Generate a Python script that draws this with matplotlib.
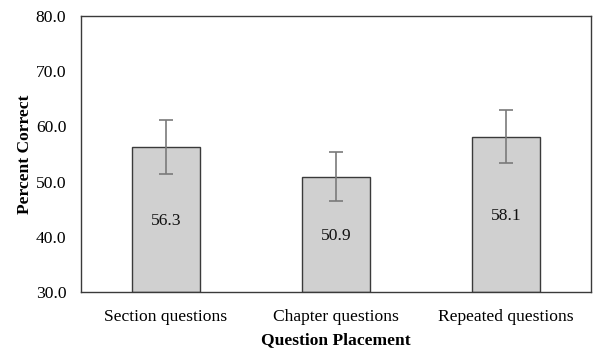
import matplotlib
matplotlib.use("Agg")
import matplotlib.pyplot as plt

categories = ["Section questions", "Chapter questions", "Repeated questions"]
values = [56.3, 50.9, 58.1]
errors = [4.85, 4.5, 4.8]
yticks = [30.0, 40.0, 50.0, 60.0, 70.0, 80.0]

plt.rcParams['font.family'] = ['Liberation Serif', 'DejaVu Serif']
fs = 12.6

fig = plt.figure(figsize=(5.93, 3.5), dpi=100)
ax = fig.add_axes([81/593, 1-292/350, 510/593, 276/350])

x = list(range(len(categories)))
bottom = yticks[0]
ax.bar(x, [v - bottom for v in values], bottom=bottom, width=0.4,
       color="#d0d0d0", edgecolor="#3a3a3a", linewidth=1.0, zorder=2)
ax.errorbar(x, values, yerr=errors, fmt="none", ecolor="#7a7a7a",
            elinewidth=1.2, capsize=5, capthick=1.2, zorder=3)
for xi, v in zip(x, values):
    ax.text(xi, (v + bottom) / 2 - 0.3, f"{v:.1f}", ha="center", va="center",
            fontsize=fs, color="#111111", zorder=4)

ax.set_xlim(-0.5, len(categories) - 0.5)
ax.set_ylim(yticks[0], yticks[-1])
ax.set_yticks(yticks)
ax.set_yticklabels([f"{t:.1f}" for t in yticks], fontsize=fs)
ax.set_xticks(x)
ax.set_xticklabels(categories, fontsize=fs)
ax.tick_params(axis="y", length=0, pad=10.5)
ax.tick_params(axis="x", length=0, pad=12)
for s in ax.spines.values():
    s.set_color("#3a3a3a")
    s.set_linewidth(1.0)

ax.set_ylabel("Percent Correct", fontsize=fs, fontweight="bold", labelpad=2)
ax.set_xlabel("Question Placement", fontsize=fs, fontweight="bold", labelpad=5)

fig.savefig("out.png", dpi=100)
